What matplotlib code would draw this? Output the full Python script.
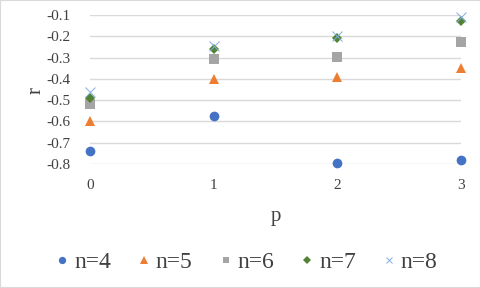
"""Scatter of r against p for several n."""

import matplotlib.pyplot as plt
from matplotlib.patches import Rectangle

plt.rcParams["font.family"] = ["Liberation Serif", "DejaVu Serif"]

p = [0, 1, 2, 3]
r_n4 = [-0.737, -0.573, -0.797, -0.783]
r_n5 = [-0.596, -0.400, -0.393, -0.350]
r_n6 = [-0.520, -0.308, -0.299, -0.228]
r_n7 = [-0.488, -0.260, -0.207, -0.127]
r_n8 = [-0.460, -0.244, -0.199, -0.111]

labels = ["n=4", "n=5", "n=6", "n=7", "n=8"]
yticks = [-0.8, -0.7, -0.6, -0.5, -0.4, -0.3, -0.2, -0.1]


def main():
    fig = plt.figure(figsize=(4.81, 2.88), dpi=100)
    ax = fig.add_axes([90 / 481, 124 / 288, 371 / 481, 149 / 288])

    styles = [
        (r_n4, "o", "#4472C4", 7),
        (r_n5, "^", "#ED7D31", 7),
        (r_n6, "s", "#A5A5A5", 6.5),
        (r_n7, "D", "#548235", 5),
        (r_n8, "x", "#7FAEE0", 6.5),
    ]
    for (vals, mk, col, ms), lab in zip(styles, labels):
        if mk == "x":
            ax.plot(p, vals, ls="none", marker=mk, ms=ms, mew=0.7,
                    color=col, label=lab, clip_on=False, zorder=3)
        else:
            ax.plot(p, vals, ls="none", marker=mk, ms=ms, mew=0,
                    color=col, label=lab, clip_on=False, zorder=3)

    ax.set_xlim(0, 3)
    ax.set_ylim(-0.8, -0.1)
    ax.set_xticks(p)
    ax.set_yticks(yticks)
    ax.set_yticklabels([f"{v:.1f}" for v in yticks])
    ax.grid(axis="y", color="#D9D9D9", lw=1)
    for s in ax.spines.values():
        s.set_visible(False)
    ax.tick_params(length=0, labelsize=11, colors="#404040", pad=11)
    ax.tick_params(axis="y", pad=14)

    fig.text(36 / 481, 1 - 90 / 288, "r", rotation=90, fontsize=15,
             color="#404040", ha="center", va="center")
    fig.text(276 / 481, 1 - 216 / 288, "p", fontsize=15,
             color="#404040", ha="center", va="center")

    fig.legend(loc="center", bbox_to_anchor=(244 / 481, 1 - 262 / 288),
               ncol=5, frameon=False, fontsize=17, handletextpad=0.0,
               columnspacing=0.9, handlelength=1.0, markerscale=0.75,
               labelcolor="#404040")

    fig.patches.append(Rectangle((0, 0), 1, 1, transform=fig.transFigure,
                                 fill=False, ec="#D9D9D9", lw=1.5))

    fig.savefig("out.png", dpi=100)


if __name__ == "__main__":
    main()
